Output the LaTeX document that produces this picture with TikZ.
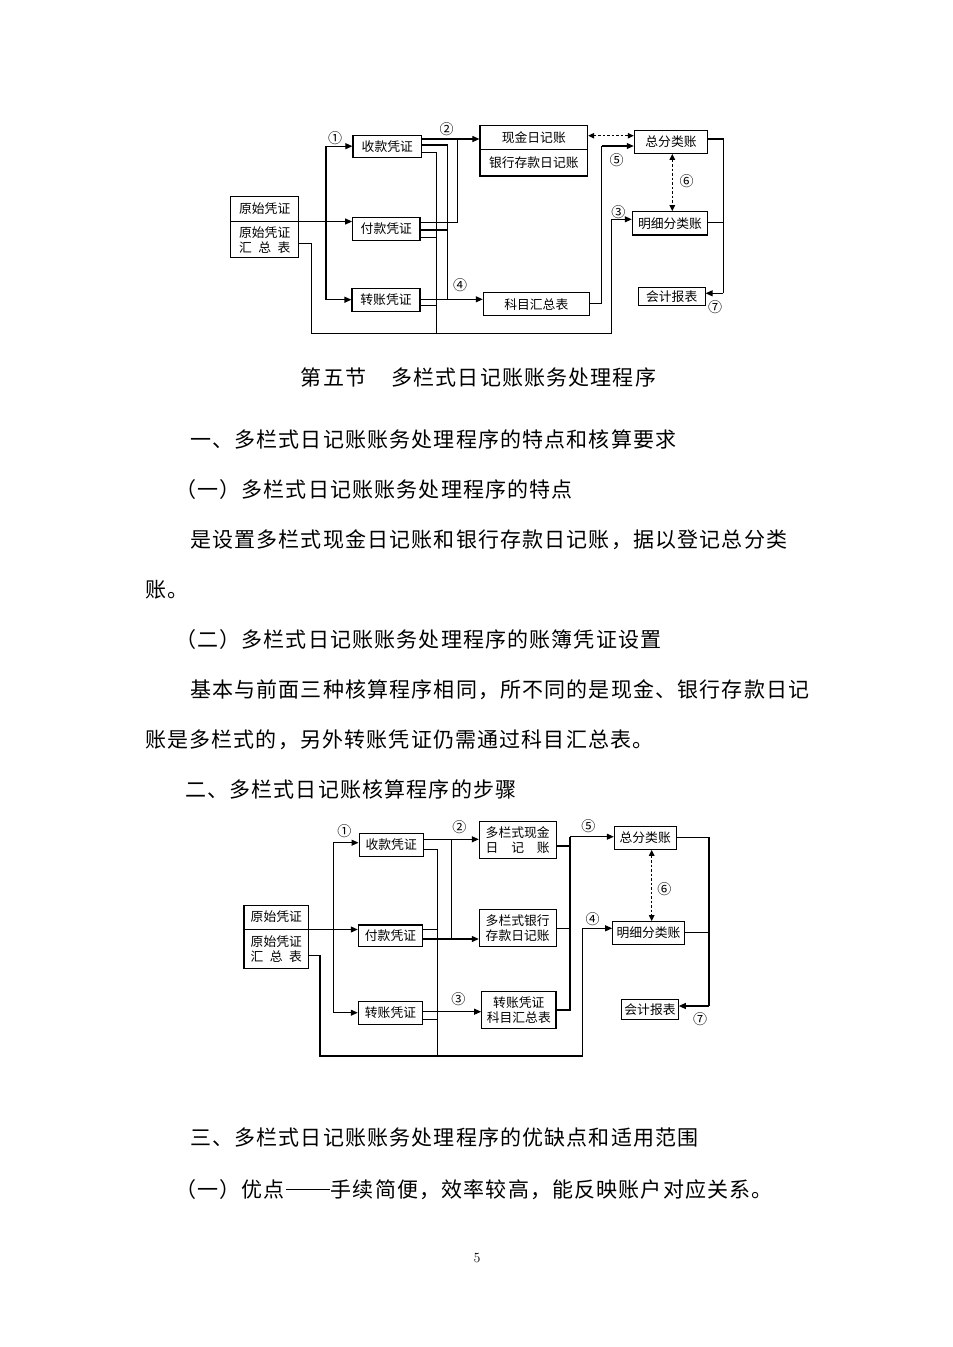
\documentclass[tikz,border=0pt]{standalone}
\usepackage{fontspec}
\usetikzlibrary{arrows.meta}
\newfontfamily\cjk{Noto Sans CJK SC}
\newfontfamily\cjkbody[LetterSpace=5.5]{Noto Sans CJK SC}
\newcommand{\spreadfour}[3]{\makebox[4em][s]{#1\hfill #2\hfill #3}}
\newcommand{\spreadfive}[3]{\makebox[5em][s]{#1\hfill #2\hfill #3}}
\begin{document}
\begin{tikzpicture}[x=1pt,y=-1pt,
  box/.style={draw, line width=1.1pt, inner sep=0pt, align=center, font=\cjk\fontsize{12.8}{15}\selectfont},
  lbl/.style={inner sep=0pt, align=center, font=\cjk\fontsize{12.8}{15}\selectfont},
  num/.style={inner sep=0pt, font=\cjk\fontsize{14}{14}\selectfont},
  body/.style={anchor=west, inner sep=0pt, font=\cjkbody\fontsize{21}{21}\selectfont},
  ln/.style={line width=1.1pt},
  arr/.style={line width=1.1pt, -{Triangle[length=7pt,width=6pt]}},
  darr/.style={line width=1.1pt, dash pattern=on 2.5pt off 2pt, {Triangle[length=6pt,width=5.5pt]}-{Triangle[length=6pt,width=5.5pt]}}
]
\useasboundingbox[fill=white] (0,0) rectangle (953,1347);

% ================= Diagram 1 =================
\node[box, minimum width=68pt, minimum height=61pt] (ys1) at (264.7,226.8) {};
\draw[ln] (ys1.west |- 0,221.5) -- (ys1.east |- 0,221.5);
\node[lbl] (ys1a) at (264.7,208.5) {原始凭证};
\node[lbl] (ys1b) at (264.7,240) {原始凭证\\\spreadfour{汇}{总}{表}};

\node[box, minimum width=68.7pt, minimum height=22.3pt] (sk1) at (387.3,146.2) {收款凭证};
\node[box, minimum width=67.3pt, minimum height=22.6pt] (fk1) at (386.3,229) {付款凭证};
\node[box, minimum width=68pt, minimum height=22.7pt] (zz1) at (386,299.7) {转账凭证};

\node[box, minimum width=107.7pt, minimum height=50.3pt] (rj1) at (533.8,150.8) {};
\draw[ln] (rj1.west |- 0,149.3) -- (rj1.east |- 0,149.3);
\node[lbl] (rj1a) at (533.8,137.5) {现金日记账};
\node[lbl] (rj1b) at (533.8,162.7) {银行存款日记账};

\node[box, minimum width=106pt, minimum height=23pt] (km1) at (536.3,304.2) {科目汇总表};
\node[box, minimum width=73.4pt, minimum height=23.3pt] (zf1) at (671,141.7) {总分类账};
\node[box, minimum width=75.4pt, minimum height=23.3pt] (mx1) at (670,223.3) {明细分类账};
\node[box, minimum width=66.7pt, minimum height=18.4pt] (kj1) at (671.7,296.5) {会计报表};

% junction coordinates
\coordinate (t1a) at (326,146.2);
\coordinate (t1b) at (326,221.5);
\coordinate (t1c) at (326,299.7);
\coordinate (v1a) at (457.3,139);
\coordinate (v1b) at (447.7,145);
\coordinate (v1c) at (436.7,152.3);
\coordinate (v1bb) at (447.7,299.3);
\coordinate (v1cb) at (436.7,333.3);
\coordinate (b1a) at (311.7,243.3);
\coordinate (b1b) at (311.7,333.3);
\coordinate (b1c) at (611.7,333.3);
\coordinate (b1d) at (611.7,219.3);
\coordinate (k1a) at (601.7,303.3);
\coordinate (k1b) at (601.7,146);
\coordinate (r1a) at (723.3,139);
\coordinate (r1b) at (723.3,293.3);

\draw[ln] (ys1.east |- t1b) -- (t1b);
\draw[ln] (t1a) -- (t1c);
\draw[arr] (t1a) -- (sk1.west |- t1a);
\draw[arr] (t1b) -- (fk1.west |- t1b);
\draw[arr] (t1c) -- (zz1.west |- t1c);

\draw[arr] (sk1.east |- v1a) -- (rj1.west |- v1a);
\draw[ln] (sk1.east |- v1b) -- (v1b) -- (v1bb);
\draw[ln] (sk1.east |- v1c) -- (v1c) -- (v1cb);
\draw[ln] (fk1.east |- 0,222.7) -- (457.3,222.7) -- (v1a);
\draw[ln] (fk1.east |- 0,230) -- (447.7,230);
\draw[ln] (fk1.east |- 0,237.3) -- (436.7,237.3);
\draw[arr] (zz1.east |- v1bb) -- (km1.west |- v1bb);
\draw[ln] (zz1.east |- 0,305.7) -- (436.7,305.7);

\draw[ln] (ys1.east |- b1a) -- (b1a) -- (b1b) -- (b1c) -- (b1d);
\draw[arr] (b1d) -- (mx1.west |- b1d);
\draw[ln] (km1.east |- k1a) -- (k1a) -- (k1b);
\draw[arr] (k1b) -- (zf1.west |- k1b);

\draw[darr] (rj1.east |- 0,135.7) -- (zf1.west |- 0,135.7);
\draw[darr] (zf1.south -| 672.3,0) -- (mx1.north -| 672.3,0);

\draw[ln] (zf1.east |- r1a) -- (r1a) -- (r1b);
\draw[ln] (mx1.east |- 0,222.3) -- (723.3,222.3);
\draw[arr] (r1b) -- (kj1.east |- r1b);

\node[num] (n11) at (335,138) {①};
\node[num] (n12) at (446.7,129) {②};
\node[num] (n13) at (618.3,211.7) {③};
\node[num] (n14) at (460,285) {④};
\node[num] (n15) at (616.7,160) {⑤};
\node[num] (n16) at (686.7,181) {⑥};
\node[num] (n17) at (715,307.3) {⑦};

% ================= Text =================
\node[inner sep=0pt, font=\cjkbody\fontsize{21}{21}\selectfont] (title) at (478.5,378) {第五节\hspace{1.2em}多栏式日记账账务处理程序};
\node[body] (p1) at (190,440) {一、多栏式日记账账务处理程序的特点和核算要求};
\node[body] (p2) at (175,490) {（一）多栏式日记账账务处理程序的特点};
\node[body] (p3) at (190,540) {是设置多栏式现金日记账和银行存款日记账，据以登记总分类};
\node[body] (p4) at (145,590) {账。};
\node[body] (p5) at (175,640) {（二）多栏式日记账账务处理程序的账簿凭证设置};
\node[body] (p6) at (190,690) {基本与前面三种核算程序相同，所不同的是现金、银行存款日记};
\node[body] (p7) at (145,740) {账是多栏式的，另外转账凭证仍需通过科目汇总表。};
\node[body] (p8) at (185,790) {二、多栏式日记账核算程序的步骤};
\node[body] (p9) at (190,1138) {三、多栏式日记账账务处理程序的优缺点和适用范围};
\node[body] (p10) at (175,1190) {（一）优点\hspace{1pt}\rule[7.5pt]{44pt}{1.2pt}\hspace{1pt}手续简便，效率较高，能反映账户对应关系。};
\node[inner sep=0pt, font=\fontsize{14}{14}\selectfont] (pg) at (477,1258) {5};

% ================= Diagram 2 =================
\node[box, minimum width=64.7pt, minimum height=63.3pt] (ys2) at (276.3,936.7) {};
\draw[ln] (ys2.west |- 0,929.5) -- (ys2.east |- 0,929.5);
\node[lbl] (ys2a) at (276.3,917) {原始凭证};
\node[lbl] (ys2b) at (276.3,949) {原始凭证\\\spreadfour{汇}{总}{表}};

\node[box, minimum width=64.3pt, minimum height=22.7pt] (sk2) at (391.2,844.7) {收款凭证};
\node[box, minimum width=64.4pt, minimum height=21.7pt] (fk2) at (390.5,935.8) {付款凭证};
\node[box, minimum width=64.4pt, minimum height=22.6pt] (zz2) at (390.5,1013) {转账凭证};

\node[box, minimum width=76.7pt, minimum height=36.6pt] (xj2) at (517.7,840) {多栏式现金\\\spreadfive{日}{记}{账}};
\node[box, minimum width=76.7pt, minimum height=37.4pt] (yh2) at (517.7,928) {多栏式银行\\存款日记账};
\node[box, minimum width=74.3pt, minimum height=37.3pt] (km2) at (518.8,1009.7) {转账凭证\\科目汇总表};

\node[box, minimum width=61.7pt, minimum height=23.3pt] (zf2) at (645.2,837.7) {总分类账};
\node[box, minimum width=71.6pt, minimum height=22.6pt] (mx2) at (648.5,933) {明细分类账};
\node[box, minimum width=56.6pt, minimum height=20pt] (kj2) at (650,1009.3) {会计报表};

\coordinate (t2a) at (333.3,842.7);
\coordinate (t2b) at (333.3,929.5);
\coordinate (t2c) at (333.3,1012.7);
\coordinate (v2a) at (451.7,839.3);
\coordinate (v2ab) at (451.7,939);
\coordinate (v2b) at (437.3,849.3);
\coordinate (v2bb) at (437.3,1056);
\coordinate (b2a) at (320,955.7);
\coordinate (b2b) at (320,1056);
\coordinate (b2c) at (582.7,1056);
\coordinate (b2d) at (582.7,928.3);
\coordinate (c2a) at (570,846);
\coordinate (c2b) at (570,928.3);
\coordinate (c2c) at (570,1010);
\coordinate (c2t) at (570,836.7);
\coordinate (r2a) at (709,837.3);
\coordinate (r2b) at (709,1006);

\draw[ln] (ys2.east |- t2b) -- (t2b);
\draw[ln] (t2a) -- (t2c);
\draw[arr] (t2a) -- (sk2.west |- t2a);
\draw[arr] (t2b) -- (fk2.west |- t2b);
\draw[arr] (t2c) -- (zz2.west |- t2c);

\draw[ln] (sk2.east |- v2a) -- (v2a);
\draw[arr] (v2a) -- (xj2.west |- v2a);
\draw[ln] (v2a) -- (v2ab);
\draw[arr] (fk2.east |- v2ab) -- (yh2.west |- v2ab);
\draw[ln] (sk2.east |- v2b) -- (v2b) -- (v2bb);
\draw[ln] (fk2.east |- 0,929.3) -- (437.3,929.3);
\draw[arr] (zz2.east |- 0,1011.7) -- (km2.west |- 0,1011.7);
\draw[ln] (zz2.east |- 0,1019.3) -- (437.3,1019.3);

\draw[ln] (ys2.east |- b2a) -- (b2a) -- (b2b) -- (b2c) -- (b2d);
\draw[arr] (b2d) -- (mx2.west |- b2d);

\draw[ln] (xj2.east |- c2a) -- (c2a);
\draw[ln] (yh2.east |- c2b) -- (c2b);
\draw[ln] (km2.east |- c2c) -- (c2c) -- (c2t);
\draw[arr] (c2t) -- (zf2.west |- c2t);

\draw[darr] (zf2.south -| 651.7,0) -- (mx2.north -| 651.7,0);

\draw[ln] (zf2.east |- r2a) -- (r2a) -- (r2b);
\draw[ln] (mx2.east |- 0,932.7) -- (709,932.7);
\draw[arr] (r2b) -- (kj2.east |- r2b);

\node[num] (n21) at (344.3,830.7) {①};
\node[num] (n22) at (459.3,827.3) {②};
\node[num] (n23) at (458.3,999.3) {③};
\node[num] (n24) at (592.7,919) {④};
\node[num] (n25) at (588.3,826) {⑤};
\node[num] (n26) at (664.3,889.3) {⑥};
\node[num] (n27) at (700,1019.3) {⑦};
\end{tikzpicture}
\end{document}
